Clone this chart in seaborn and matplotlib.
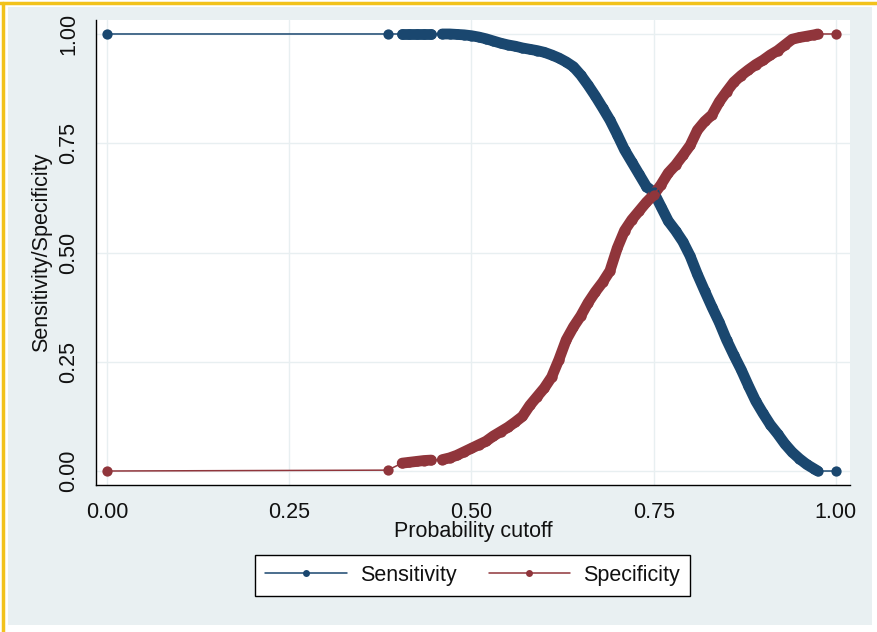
import numpy as np
import pandas as pd
import matplotlib
matplotlib.use("Agg")
import matplotlib.pyplot as plt
from matplotlib.lines import Line2D
from matplotlib.patches import Rectangle
import seaborn as sns

# Probability cutoffs and the classification rates at each cutoff
cutoff = [0.0, 0.385, 0.405, 0.415, 0.425, 0.435, 0.445,
          0.46, 0.47, 0.48, 0.49, 0.50, 0.51, 0.52, 0.53, 0.54, 0.55,
          0.56, 0.57, 0.58, 0.59, 0.60, 0.61, 0.62, 0.63, 0.64, 0.65,
          0.66, 0.67, 0.68, 0.69, 0.70, 0.71, 0.72, 0.73, 0.74, 0.75,
          0.76, 0.77, 0.78, 0.79, 0.80, 0.81, 0.82, 0.83, 0.84, 0.85,
          0.86, 0.87, 0.88, 0.89, 0.90, 0.91, 0.92, 0.93, 0.94, 0.95,
          0.96, 0.97, 0.975, 1.0]

sensitivity = [1.0, 1.0, 1.0, 1.0, 1.0, 1.0, 1.0,
               1.000, 1.000, 0.999, 0.998, 0.996, 0.993, 0.989, 0.984, 0.979, 0.975,
               0.972, 0.968, 0.965, 0.962, 0.958, 0.952, 0.945, 0.936, 0.925, 0.906,
               0.883, 0.858, 0.831, 0.803, 0.770, 0.735, 0.707, 0.679, 0.651, 0.638,
               0.605, 0.572, 0.550, 0.525, 0.492, 0.450, 0.412, 0.375, 0.340, 0.300,
               0.265, 0.232, 0.195, 0.160, 0.132, 0.106, 0.085, 0.062, 0.043, 0.028,
               0.015, 0.005, 0.0, 0.0]

specificity = [0.0, 0.002, 0.018, 0.020, 0.022, 0.024, 0.025,
               0.026, 0.030, 0.036, 0.044, 0.052, 0.060, 0.068, 0.080, 0.090, 0.100,
               0.112, 0.125, 0.150, 0.170, 0.190, 0.215, 0.255, 0.300, 0.330, 0.355,
               0.385, 0.410, 0.432, 0.458, 0.510, 0.550, 0.575, 0.595, 0.615, 0.632,
               0.655, 0.682, 0.700, 0.722, 0.745, 0.780, 0.800, 0.815, 0.845, 0.868,
               0.890, 0.905, 0.918, 0.930, 0.940, 0.952, 0.962, 0.975, 0.988, 0.992,
               0.995, 0.998, 1.0, 1.0]

series_names = ["Sensitivity", "Specificity"]
series_colors = ["#1a476f", "#90353b"]
tick_values = [0.0, 0.25, 0.5, 0.75, 1.0]
tick_labels = ["0.00", "0.25", "0.50", "0.75", "1.00"]

sns.set_style("white")
plt.rcParams["font.family"] = ["Liberation Sans", "DejaVu Sans"]

W, H = 877, 632
fig = plt.figure(figsize=(W / 100, H / 100), dpi=100, facecolor="white")

# Graph region background and frame lines
fig.patches.append(Rectangle((8 / W, 1 - 625 / H), (872 - 8) / W, (625 - 7) / H,
                             transform=fig.transFigure, facecolor="#e9f0f2",
                             edgecolor="none", zorder=-2))
fig.add_artist(Line2D([0, 1], [1 - 3 / H, 1 - 3 / H], transform=fig.transFigure,
                      color="#f2c21c", lw=2.5, zorder=-1))
fig.add_artist(Line2D([3 / W, 3 / W], [0, 1 - 3 / H], transform=fig.transFigure,
                      color="#f2c21c", lw=2.5, zorder=-1))

ax = fig.add_axes([96 / W, 1 - 485 / H, (850 - 96) / W, (485 - 20) / H])
ax.set_zorder(1)
ax.set_facecolor("white")

df = pd.DataFrame({"cutoff": cutoff,
                   "Sensitivity": sensitivity,
                   "Specificity": specificity})
long = df.melt(id_vars="cutoff", value_vars=series_names,
               var_name="series", value_name="rate")

# Closely spaced cutoffs form runs drawn as a solid band
gaps = np.diff(np.asarray(cutoff)) > 0.0101
run_id = np.concatenate([[0], np.cumsum(gaps)])
df["run"] = run_id
run_size = df.groupby("run")["cutoff"].transform("size")
dense = df[run_size > 1]

palette = dict(zip(series_names, series_colors))
for name in series_names:
    sns.lineplot(data=dense, x="cutoff", y=name, units="run", estimator=None,
                 color=palette[name], lw=7.8, solid_capstyle="round",
                 solid_joinstyle="round", ax=ax, zorder=3, legend=False)

sns.lineplot(data=long, x="cutoff", y="rate", hue="series", palette=palette,
             estimator=None, lw=1.1, marker="o", markersize=7.4,
             markeredgewidth=0, ax=ax, zorder=4, legend=False)

ax.set_xlim(-0.015, 1.0193)
ax.set_ylim(-0.032, 1.032)
ax.set_xticks(tick_values)
ax.set_xticklabels(tick_labels)
ax.set_yticks(tick_values)
ax.set_yticklabels(tick_labels, rotation=90, va="center")
ax.tick_params(axis="both", direction="out", length=7, width=1, color="black",
               labelsize=15.5, labelcolor="#111111")
ax.tick_params(axis="x", pad=5)
ax.tick_params(axis="y", pad=5)
ax.grid(True, color="#e8eff1", lw=1)
ax.set_axisbelow(True)
for side in ["top", "right"]:
    ax.spines[side].set_visible(False)
for side in ["left", "bottom"]:
    ax.spines[side].set_color("black")
    ax.spines[side].set_linewidth(1)

ax.set_xlabel("Probability cutoff", fontsize=15.5, color="#111111")
ax.set_ylabel("Sensitivity/Specificity", fontsize=15.5, color="#111111")
ax.xaxis.set_label_coords(0.5, -0.077)
ax.yaxis.set_label_coords(-0.058, 0.5)

handles = [Line2D([0], [0], color=c, lw=1.1, marker="o", markersize=5,
                  markeredgewidth=0) for c in series_colors]
leg = fig.legend(handles, series_names, loc="center",
                 bbox_to_anchor=(472.5 / W, 1 - 575.5 / H), ncol=2,
                 frameon=True, fancybox=False, fontsize=15.5, framealpha=1,
                 handlelength=3.8, handletextpad=0.6, columnspacing=1.5,
                 borderpad=0.45)
leg.get_frame().set_edgecolor("black")
leg.get_frame().set_linewidth(1)
leg.get_frame().set_facecolor("white")
for t in leg.get_texts():
    t.set_color("#111111")

fig.savefig("out.png", dpi=100, facecolor="white")
